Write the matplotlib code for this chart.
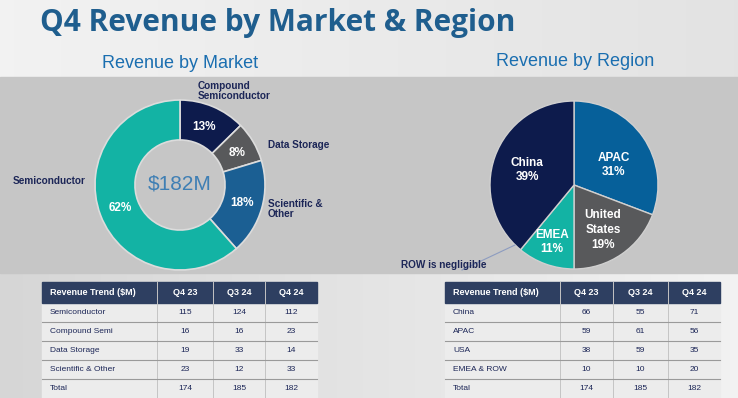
import numpy as np
import matplotlib
matplotlib.use("Agg")
import matplotlib.pyplot as plt
from matplotlib.patches import Rectangle

# ---------------- data ----------------
quarters = ["Q4 23", "Q3 24", "Q4 24"]
market_names = ["Semiconductor", "Compound Semi", "Data Storage", "Scientific & Other"]
market_q423 = [115, 16, 19, 23]
market_q324 = [124, 16, 33, 12]
market_q424 = [112, 23, 14, 33]
market_total = [174, 185, 182]

region_names = ["China", "APAC", "USA", "EMEA & ROW"]
region_q423 = [66, 59, 38, 10]
region_q324 = [55, 61, 59, 10]
region_q424 = [71, 56, 35, 20]
region_total = [174, 185, 182]

# pie order (clockwise from top)
donut_labels = ["Compound Semi", "Data Storage", "Scientific & Other", "Semiconductor"]
donut_values = [market_q424[1], market_q424[2], market_q424[3], market_q424[0]]
pie_labels = ["APAC", "United States", "EMEA", "China"]
pie_values = [region_q424[1], region_q424[2], region_q424[3], region_q424[0]]

NAVY = "#0d1b4c"
GRAY = "#58595b"
BLUE = "#1b5f93"
TEAL = "#13b3a4"
APAC_BLUE = "#06609a"
TXT = "#1c2657"
HEAD = "#2e3f61"

W, H = 738, 398
fig = plt.figure(figsize=(W / 100, H / 100), dpi=100)
bg = fig.add_axes([0, 0, 1, 1])
bg.set_zorder(0)
bg.axis("off")

# background
top = np.linspace(0.95, 0.89, 256)[None, :]
bg.imshow(np.repeat(top[..., None], 3, axis=2), extent=[0, W, 77, 0], aspect="auto", zorder=0)
bot = np.linspace(0.84, 0.95, 256)[None, :]
bg.imshow(np.repeat(bot[..., None], 3, axis=2), extent=[0, W, H, 273], aspect="auto", zorder=0)
bg.add_patch(Rectangle((0, 77), W, 196, color="#c6c6c6", zorder=0.5))
bg.set_xlim(0, W)
bg.set_ylim(H, 0)

# overlay for text on top of pies
ov = fig.add_axes([0, 0, 1, 1])
ov.set_zorder(10)
ov.patch.set_alpha(0)
ov.axis("off")
ov.set_xlim(0, W)
ov.set_ylim(H, 0)

fam = ["Liberation Sans", "DejaVu Sans"]

ov.text(40, 23, "Q4 Revenue by Market & Region", fontsize=21.5, fontweight="bold",
        color="#1f5e8e", va="center", ha="left", family=["Open Sans", "DejaVu Sans"])
ov.text(180, 63, "Revenue by Market", fontsize=13, color="#1a6eb0", ha="center", va="center", family=fam)
ov.text(575, 62, "Revenue by Region", fontsize=13, color="#1a6eb0", ha="center", va="center", family=fam)

# ---------------- donut ----------------
def px_axes(cx, cy, r):
    a = fig.add_axes([(cx - r) / W, (H - cy - r) / H, 2 * r / W, 2 * r / H])
    a.set_zorder(5)
    return a

ax1 = px_axes(180, 185, 85)
ax1.pie(donut_values, colors=[NAVY, GRAY, BLUE, TEAL], startangle=90, counterclock=False,
        radius=1.0, wedgeprops=dict(width=0.47, edgecolor="#dcdcdc", linewidth=1.2))
ax1.set_xlim(-1, 1); ax1.set_ylim(-1, 1)
ax1.axis("off")

tot = sum(donut_values)
pct = [f"{round(v / tot * 100)}%" for v in donut_values]
lab_pos = [(204, 127), (237, 153), (242, 203), (120, 208)]
for (x, y), p in zip(lab_pos, pct):
    ov.text(x, y, p, fontsize=8.5, fontweight="bold", color="white", ha="center", va="center", family=fam)
ov.text(180, 184, f"${market_total[2]}M", fontsize=15, color="#3f7fb4", ha="center", va="center",
        family=fam)

outer = [("Compound\nSemiconductor", 198, 91), ("Data Storage", 268, 145),
         ("Scientific &\nOther", 268, 209), ("Semiconductor", 13, 181)]
for t, x, y in outer:
    ov.text(x, y, t, fontsize=7.2, fontweight="bold", color=TXT, ha="left", va="center",
            family=fam, linespacing=1.05)

# ---------------- pie ----------------
ax2 = px_axes(574, 185, 84)
ax2.pie(pie_values, colors=[APAC_BLUE, GRAY, TEAL, NAVY], startangle=90, counterclock=False,
        wedgeprops=dict(edgecolor="#d0d0d0", linewidth=1.0))
ax2.set_xlim(-1, 1); ax2.set_ylim(-1, 1)
ax2.axis("off")

ptot = sum(pie_values)
ppct = [f"{round(v / ptot * 100)}%" for v in pie_values]
pie_text = [("APAC\n" + ppct[0], 614, 165), ("United\nStates\n" + ppct[1], 603, 230),
            ("EMEA\n" + ppct[2], 552, 242), ("China\n" + ppct[3], 527, 170)]
for t, x, y in pie_text:
    ov.text(x, y, t, fontsize=8.5, fontweight="bold", color="white", ha="center", va="center",
            family=fam, linespacing=1.3)

ov.plot([462, 515], [270, 245], color="#8d9cc0", lw=0.8)
ov.text(401, 265, "ROW is negligible", fontsize=7.2, fontweight="bold", color=TXT, ha="left",
        va="center", family=fam)

# ---------------- tables ----------------
def draw_table(x_edges, names, cols, totals):
    y0, hh, rh = 282, 21, 19
    x0, x1 = x_edges[0], x_edges[-1]
    bg.add_patch(Rectangle((x0, y0), x1 - x0, hh, color=HEAD, zorder=2))
    headers = ["Revenue Trend ($M)"] + quarters
    for i, h in enumerate(headers):
        if i == 0:
            ov.text(x0 + 8, y0 + hh / 2, h, color="white", fontsize=6.5, fontweight="bold",
                    ha="left", va="center", family=fam)
        else:
            ov.text((x_edges[i] + x_edges[i + 1]) / 2, y0 + hh / 2, h, color="white", fontsize=6.5,
                    fontweight="bold", ha="center", va="center", family=fam)
    rows = [[n] + [c[k] for c in cols] for k, n in enumerate(names)] + [["Total"] + list(totals)]
    ytop = y0 + hh
    for r, row in enumerate(rows):
        yc = ytop + r * rh + rh / 2
        bg.add_patch(Rectangle((x0, ytop + r * rh), x1 - x0, rh, color="#ececec", zorder=1.5))
        for i, v in enumerate(row):
            if i == 0:
                ov.text(x0 + 8, yc, str(v), color=TXT, fontsize=6, ha="left", va="center", family=fam)
            else:
                ov.text((x_edges[i] + x_edges[i + 1]) / 2, yc, str(v), color=TXT, fontsize=6,
                        ha="center", va="center", family=fam)
        if r < len(rows) - 1:
            bg.plot([x0, x1], [ytop + (r + 1) * rh] * 2, color="#9a9a9a", lw=0.8, zorder=3)
    for xe in x_edges[1:-1]:
        bg.plot([xe, xe], [y0, H], color="#c4c4c4", lw=0.7, zorder=2.5)

draw_table([42, 157, 213, 265, 317], market_names, [market_q423, market_q324, market_q424], market_total)
draw_table([445, 560, 613, 668, 720], region_names, [region_q423, region_q324, region_q424], region_total)

fig.savefig("out.png", dpi=100)
